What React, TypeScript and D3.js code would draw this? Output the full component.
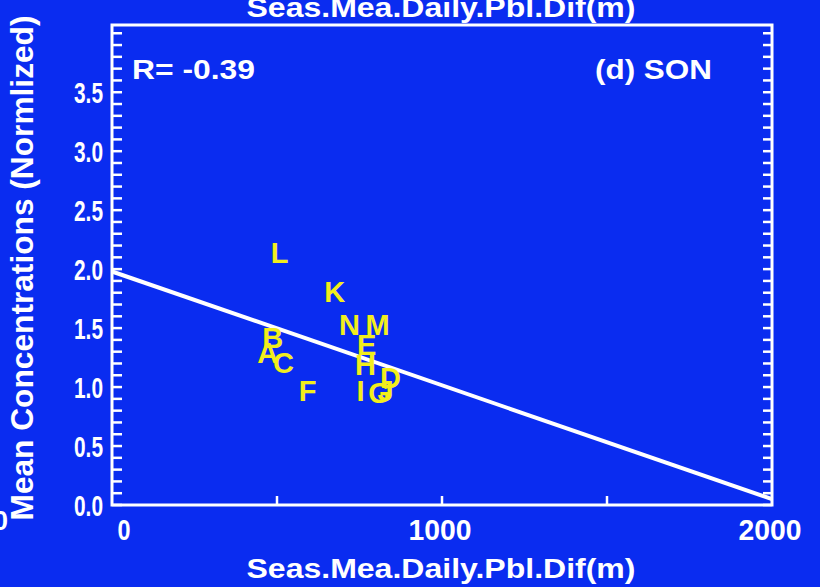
import React from "react";
import * as d3 from "d3";

const labels = ["A", "B", "C", "D", "E", "F", "G", "H", "I", "J", "K", "L", "M", "N"];
const xValues = [472, 487, 520, 844, 772, 593, 811, 768, 753, 829, 675, 508, 805, 720];
const yValues = [1.29, 1.42, 1.21, 1.08, 1.36, 0.97, 0.95, 1.19, 0.97, 0.97, 1.81, 2.14, 1.53, 1.53];
const fitX = [0, 2000];
const fitY = [1.98, 0.05];
const xTicks = [0, 1000, 2000];
const xMinorTicks = [500, 1000, 1500];
const yTicks = [0, 0.5, 1.0, 1.5, 2.0, 2.5, 3.0, 3.5];
const rText = "R= -0.39";
const panelText = "(d) SON";
const xTitle = "Seas.Mea.Daily.Pbl.Dif(m)";
const yTitle = "Mean Concentrations (Normlized)";

const W = 820;
const H = 587;
const BG = "#0a2cf0";
const FG = "#ffffff";
const YEL = "#f2ee1c";
const FONT = "'Liberation Sans', Arial, sans-serif";

export default function App() {
  const left = 112, right = 772, top = 25, bottom = 505;
  const x = d3.scaleLinear().domain([0, 2000]).range([left, right]);
  const y = d3.scaleLinear().domain([0, 4.07]).range([bottom, top]);
  const minorY = d3.range(0, 4.07, 0.1);
  const line = d3.line<number>().x((_, i) => x(fitX[i])).y((d) => y(d));

  return (
    <svg width={W} height={H} style={{ position: "absolute", left: 0, top: 0 }} fontFamily={FONT} fontWeight="bold">
      <rect width={W} height={H} fill={BG} />
      {/* top title (cut off) */}
      <text x={441} y={17} fill={FG} fontSize={27} textAnchor="middle" textLength={389} lengthAdjust="spacingAndGlyphs">{xTitle}</text>
      {/* partial label from neighbouring panel */}
      <text x={-7} y={530} fill={FG} fontSize={27}>0</text>
      {/* axes box */}
      <rect x={left} y={top} width={right - left} height={bottom - top} fill="none" stroke={FG} strokeWidth={3} />
      {minorY.map((v, i) => (
        <g key={"my" + i}>
          <line x1={left} x2={left + 10} y1={y(v)} y2={y(v)} stroke={FG} strokeWidth={2.5} />
          <line x1={right} x2={right - 9} y1={y(v)} y2={y(v)} stroke={FG} strokeWidth={2.5} />
        </g>
      ))}
      {xMinorTicks.map((v) => (
        <line key={"mx" + v} x1={x(v)} x2={x(v)} y1={bottom} y2={bottom - 9} stroke={FG} strokeWidth={2.5} />
      ))}
      {yTicks.map((v) => (
        <text key={"yt" + v} x={103} y={y(v) + 11} fill={FG} fontSize={30} textAnchor="end" textLength={29} lengthAdjust="spacingAndGlyphs">{v.toFixed(1)}</text>
      ))}
      {xTicks.map((v) => (
        <text key={"xt" + v} x={v === 0 ? x(v) + 12 : x(v) - 2} y={540} fill={FG} fontSize={29} textAnchor="middle"
          textLength={v === 0 ? 13 : 63} lengthAdjust="spacingAndGlyphs">{String(v)}</text>
      ))}
      <text x={441} y={578} fill={FG} fontSize={27} textAnchor="middle" textLength={389} lengthAdjust="spacingAndGlyphs">{xTitle}</text>
      <text transform={`translate(33,268) rotate(-90)`} fill={FG} fontSize={31} textAnchor="middle" textLength={505} lengthAdjust="spacingAndGlyphs">{yTitle}</text>
      <text x={132} y={79} fill={FG} fontSize={27} textLength={123} lengthAdjust="spacingAndGlyphs">{rText}</text>
      <text x={595} y={79} fill={FG} fontSize={27} textLength={117} lengthAdjust="spacingAndGlyphs">{panelText}</text>
      <path d={line(fitY) || ""} stroke={FG} strokeWidth={4} fill="none" />
      {labels.map((l, i) => (
        <text key={l} x={x(xValues[i])} y={y(yValues[i])} dy="0.36em" fill={YEL} fontSize={29} textAnchor="middle">{l}</text>
      ))}
    </svg>
  );
}
